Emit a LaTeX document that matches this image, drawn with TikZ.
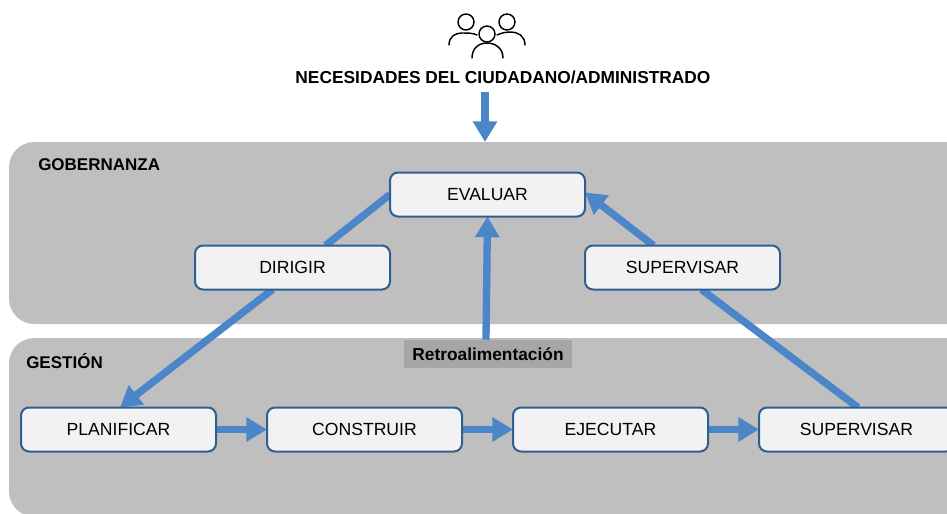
\documentclass[tikz,border=0pt]{standalone}
\usepackage{fontspec}
\setmainfont{Liberation Sans}
\usepackage{tikz}
\usetikzlibrary{positioning}
\usetikzlibrary{arrows.meta}
\usetikzlibrary{backgrounds}
\definecolor{myblue}{HTML}{4A86C8}
\definecolor{myborder}{HTML}{2F5F8F}
\definecolor{myband}{HTML}{BFBFBF}
\definecolor{myfill}{HTML}{F2F2F2}
\definecolor{mylabel}{HTML}{A6A6A6}
\tikzset{
  myband/.style={
    fill=myband,
    shape=rectangle,
    rounded corners=19pt,
    outer sep=0pt,
    inner sep=0pt,
    minimum width=780pt,
  },
  myrectangle/.style={
    draw=myborder,
    fill=myfill,
    shape=rectangle,
    line width=1.5pt,
    rounded corners=6pt,
    align=center,
    outer sep=0pt,
    inner sep=0pt,
    minimum width=146.25pt,
    minimum height=33pt,
    font=\fontsize{13.2}{15}\selectfont
  },
  mytitle/.style={
    inner sep=0pt,
    font=\fontsize{13}{15}\selectfont\bfseries
  },
  myline/.style={
    draw=myblue,
    line width=5.5pt,
  },
  myarrow/.style={
    myline,
    -{Triangle[length=15.5pt,width=17.5pt]},
  },
  myperson/.style={
    draw=black,
    line width=1.1pt,
    line cap=round,
  },
}

\begin{document}
\begin{tikzpicture}[x=0.75pt,y=-0.75pt]
    \clip (0,0) rectangle (947,514);

    \node[mytitle, anchor=west, font=\fontsize{12.75}{15}\selectfont\bfseries] (gobernanzatitle) at (38,165) {GOBERNANZA};
    \node[mytitle, anchor=west, font=\fontsize{12.75}{15}\selectfont\bfseries] (gestiontitle) at (26,361) {GESTIÓN};
    \node[mytitle] (necesidades) at (503,77) {NECESIDADES DEL CIUDADANO/ADMINISTRADO};

    \node[myrectangle] (evaluar) at (487.5,194.5) {EVALUAR};
    \node[myrectangle] (dirigir) [below left=21.75pt and 0pt of evaluar] {DIRIGIR};
    \node[myrectangle] (supervisara) [below right=21.75pt and 0pt of evaluar] {SUPERVISAR};

    \node[myrectangle] (planificar) at (118.5,429.5) {PLANIFICAR};
    \node[myrectangle] (construir) [right=38.25pt of planificar] {CONSTRUIR};
    \node[myrectangle] (ejecutar) [right=38.25pt of construir] {EJECUTAR};
    \node[myrectangle] (supervisarb) [right=38.25pt of ejecutar] {SUPERVISAR};

    \node[fill=mylabel, mytitle, minimum width=126pt, minimum height=21pt] (retro) at (488,354) {Retroalimentación};

    \draw[myperson] (466,22) circle (8);
    \draw[myperson] (507,22) circle (8);
    \draw[myperson] (487,34) circle (8);
    \draw[myperson] (449,45) .. controls (449,36) and (456,33) .. (462,33) .. controls (468,33) and (473,33) .. (477,35);
    \draw[myperson] (525,45) .. controls (525,36) and (518,32) .. (511,32) .. controls (506,32) and (501,33) .. (497,35);
    \draw[myperson] (472,58) .. controls (472,48) and (479,43) .. (487,43) .. controls (495,43) and (503,48) .. (503,58);

    \begin{scope}[on background layer]
      \fill[white] (0,0) rectangle (947,514);
      \node[myband, minimum height=136.5pt, anchor=north west] (gobernanza) at (9,142) {};
      \node[myband, minimum height=134pt, anchor=north west] (gestion) at (9,338) {};

      \draw[myarrow] ([shift={(-18,8)}]necesidades.south) -- ([shift={(476,0)}]gobernanza.north west);

      \draw[myline] (evaluar.west) -- ([shift={(33,0)}]dirigir.north);
      \draw[myarrow] ([shift={(-20,0)}]dirigir.south) -- ([shift={(1.5,0)}]planificar.north);
      \draw[myline] ([shift={(99,0)}]supervisarb.north west) -- ([shift={(19,0)}]supervisara.south);
      \draw[myarrow] ([shift={(-29,0)}]supervisara.north) -- ([shift={(0,-2)}]evaluar.east);
      \draw[myarrow] ([shift={(-2,0)}]retro.north) -- (evaluar.south);

      \draw[myarrow] (planificar) -- (construir);
      \draw[myarrow] (construir) -- (ejecutar);
      \draw[myarrow] (ejecutar) -- (supervisarb);
    \end{scope}
  \end{tikzpicture}
\end{document}
